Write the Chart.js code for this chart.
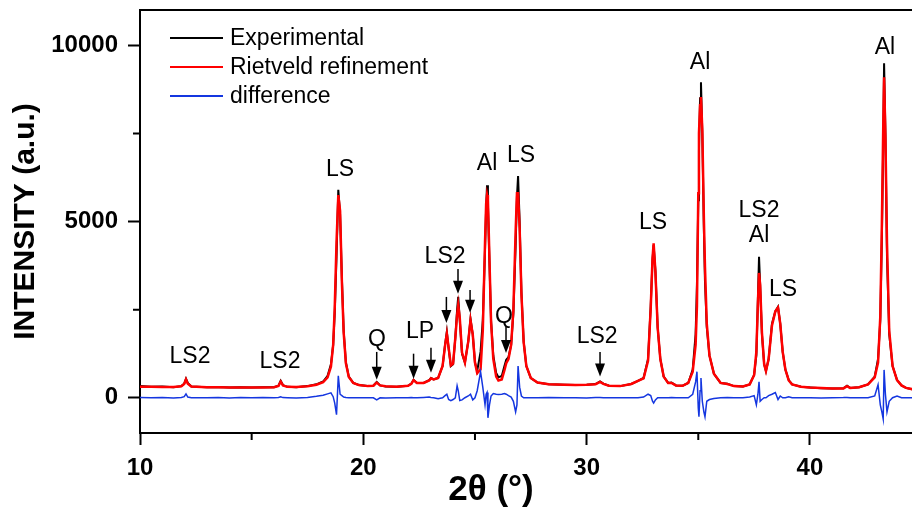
<!DOCTYPE html>
<html>
<head>
<meta charset="utf-8">
<script src="https://cdn.jsdelivr.net/npm/chart.js@4.4.0/dist/chart.umd.min.js"></script>
<style>
  html, body { margin: 0; padding: 0; background: #fff; }
</style>
</head>
<body>
<canvas id="xrd" width="912" height="512"></canvas>
<script>
// 2theta positions (deg) shared by the three traces
const twoTheta = [
  10.0, 10.5, 11.0, 11.5, 11.85, 11.98, 12.06, 12.14, 12.3, 13.0, 13.5, 14.0, 14.5, 15.0, 15.5,
  16.0, 16.2, 16.3, 16.4, 16.6, 17.0, 17.5, 17.9, 18.2, 18.4, 18.55, 18.65, 18.72, 18.8, 18.88,
  18.96, 19.04, 19.12, 19.22, 19.35, 19.55, 19.8, 20.2, 20.45, 20.6, 20.75, 21.0, 21.5, 22.0, 22.15,
  22.25, 22.4, 22.7, 22.95, 23.03, 23.15, 23.35, 23.55, 23.66, 23.74, 23.82, 23.92, 24.02, 24.12, 24.2,
  24.25, 24.32, 24.42, 24.55, 24.7, 24.8, 24.9, 25.0, 25.1, 25.25, 25.35, 25.45, 25.5, 25.54, 25.58,
  25.65, 25.72, 25.82, 25.95, 26.05, 26.2, 26.32, 26.4, 26.5, 26.62, 26.72, 26.82, 26.88, 26.93, 27.0,
  27.08, 27.18, 27.3, 27.5, 27.8, 28.3, 29.0, 29.5, 30.0, 30.4, 30.6, 30.75, 31.0, 31.5, 32.0,
  32.3, 32.55, 32.75, 32.87, 32.95, 33.0, 33.08, 33.18, 33.3, 33.45, 33.65, 33.8, 34.0, 34.3, 34.55,
  34.75, 34.88, 34.94, 35.0, 35.03, 35.08, 35.12, 35.18, 35.25, 35.3, 35.38, 35.5, 35.7, 36.0, 36.3,
  36.6, 37.0, 37.3, 37.5, 37.6, 37.67, 37.72, 37.77, 37.85, 37.95, 38.03, 38.15, 38.3, 38.45, 38.57,
  38.67, 38.78, 38.9, 39.05, 39.2, 39.6, 40.0, 40.5, 41.0, 41.5, 41.66, 41.8, 42.2, 42.6, 42.9,
  43.05, 43.15, 43.22, 43.28, 43.32, 43.38, 43.45, 43.55, 43.7, 43.9, 44.1, 44.3, 44.6
];

const experimental = [
  330, 315, 320, 300, 330, 400, 540, 420, 320, 300, 305, 290, 300, 288, 295,
  300, 340, 480, 360, 310, 300, 330, 380, 460, 620, 950, 1500, 2400, 4000, 5900,
  5200, 3400, 1900, 1000, 600, 420, 360, 330, 340, 450, 350, 320, 310, 340, 400,
  510, 420, 420, 500, 560, 520, 560, 900, 1500, 1870, 1400, 900, 950, 1700, 2500,
  2860, 2200, 1250, 1000, 1600, 2240, 1800, 1000, 760, 1300, 2200, 4200, 5400, 6030, 5500,
  3800, 2200, 1200, 700, 580, 620, 900, 1080, 1150, 1500, 2400, 4300, 5700, 6290, 5000,
  3000, 1600, 900, 560, 430, 380, 370, 365, 370, 390, 460, 400, 340, 330, 390,
  480, 560, 1100, 2600, 3900, 4330, 3600, 2000, 1100, 600, 420, 430, 350, 340, 420,
  800, 1800, 3200, 5600, 7000, 8500, 8950, 7500, 4800, 3300, 2000, 1200, 680, 420, 400,
  330, 320, 380, 650, 1200, 2800, 4000, 3200, 1800, 950, 760, 1100, 2100, 2450, 2580,
  2100, 1300, 800, 500, 380, 310, 290, 270, 260, 270, 340, 280, 300, 380, 600,
  1100, 2200, 4500, 7200, 9490, 7500, 4000, 1800, 900, 500, 350, 280, 240
];

const refinement = [
  315, 312, 308, 305, 325, 390, 520, 400, 318, 298, 295, 292, 290, 290, 291,
  298, 335, 460, 350, 310, 305, 325, 370, 440, 580, 880, 1500, 2550, 4400, 5750,
  5300, 3300, 1850, 980, 590, 420, 360, 330, 340, 430, 350, 325, 315, 340, 395,
  500, 420, 420, 490, 550, 520, 560, 900, 1480, 1820, 1420, 920, 970, 1700, 2350,
  2630, 2250, 1280, 1000, 1600, 2200, 1800, 1000, 700, 800, 1900, 4400, 5500, 5750, 5600,
  3900, 2150, 1100, 600, 490, 520, 780, 980, 1100, 1500, 2500, 4700, 5800, 5800, 4800,
  2950, 1580, 900, 560, 430, 380, 370, 365, 372, 385, 450, 395, 340, 330, 390,
  480, 550, 1050, 2550, 3950, 4380, 3580, 2000, 1100, 600, 420, 420, 350, 340, 420,
  740, 1500, 2600, 5800, 7500, 8300, 8530, 7600, 5100, 3700, 2100, 1200, 680, 420, 390,
  330, 320, 380, 640, 1300, 2700, 3540, 3200, 1850, 950, 760, 1100, 2050, 2450, 2560,
  2100, 1300, 800, 490, 380, 310, 290, 275, 260, 265, 330, 278, 300, 380, 580,
  1000, 2300, 4900, 7600, 9090, 7400, 4400, 1900, 900, 500, 350, 280, 240
];

const difference = [
  10, 0, 10, -10, 10, 30, 110, 20, 0, 0, 10, -5, 10, 0, 5,
  0, 10, 30, 5, 0, -5, 10, 40, 70, 110, 140, 30, -150, -480, 620,
  100, 60, 20, 10, 0, 0, 0, 0, 0, -60, 0, -5, 0, 0, 5,
  0, 0, 10, 20, 10, 0, -30, 0, 60, 100, -50, -80, -50, 0, 340,
  200, -80, -60, 0, 50, 100, -60, 0, 200, 740, 300, -200, 100, 150, -570,
  -200, 50, 120, 100, 90, 100, 120, 100, 60, 20, -100, -400, -200, 900, 300,
  50, 0, 0, 0, 0, 5, 0, 0, -5, 10, 10, 0, 0, 0, 0,
  0, 20, 100, 60, -100, -150, -60, 0, 0, 0, 0, 10, 0, 0, 0,
  100, 450, 740, -300, -540, 200, 560, -100, -400, -540, -100, -50, -20, 0, 10,
  0, 0, 20, 60, -200, 100, 450, -100, -50, 0, 0, 60, 100, 150, -50,
  50, 0, 0, 30, 0, 0, 0, -5, 0, 5, 10, 0, 0, 0, 50,
  370, -200, -400, -600, 790, 100, -400, -100, 0, 50, 0, 0, 0
];

const xTicks = [10, 20, 30, 40];
const xMinorTicks = [15, 25, 35];
const yTicks = [0, 5000, 10000];
const yMinorTicks = [2500, 7500];

// phase labels and marker arrows, in data units
const peakLabels = [
  { text: 'LS2', x: 12.24, y: 1160 },
  { text: 'LS2', x: 16.27, y: 1020 },
  { text: 'LS', x: 18.96, y: 6460 },
  { text: 'Q', x: 20.61, y: 1640 },
  { text: 'LP', x: 22.54, y: 1870 },
  { text: 'LS2', x: 23.66, y: 3990 },
  { text: 'Al', x: 25.54, y: 6630 },
  { text: 'LS', x: 27.06, y: 6880 },
  { text: 'Q', x: 26.30, y: 2290 },
  { text: 'LS2', x: 30.47, y: 1730 },
  { text: 'LS', x: 32.97, y: 4960 },
  { text: 'Al', x: 35.08, y: 9520 },
  { text: 'LS2', x: 37.72, y: 5300 },
  { text: 'Al', x: 37.72, y: 4590 },
  { text: 'LS', x: 38.80, y: 3060 },
  { text: 'Al', x: 43.36, y: 9920 }
];
const arrows = [
  { x: 20.6, from: 1300, to: 510 },
  { x: 22.25, from: 1250, to: 540 },
  { x: 23.03, from: 1420, to: 710 },
  { x: 23.72, from: 2860, to: 2120 },
  { x: 24.24, from: 3650, to: 2950 },
  { x: 24.78, from: 3060, to: 2410 },
  { x: 26.39, from: 2010, to: 1270 },
  { x: 30.6, from: 1300, to: 600 }
];

const FONT = '"Liberation Sans", Arial, sans-serif';

const pts = ys => twoTheta.map((t, i) => ({ x: t, y: ys[i] }));

const decorations = {
  id: 'decorations',
  afterDatasetsDraw(chart) {
    const { ctx, chartArea: a, scales: { x, y } } = chart;
    ctx.save();
    ctx.strokeStyle = '#000';
    ctx.fillStyle = '#000';
    ctx.lineWidth = 2;
    // top frame line
    ctx.beginPath();
    ctx.moveTo(a.left - 1, a.top);
    ctx.lineTo(a.right, a.top);
    ctx.stroke();
    // minor ticks
    ctx.beginPath();
    xMinorTicks.forEach(v => {
      const px = x.getPixelForValue(v);
      ctx.moveTo(px, a.bottom);
      ctx.lineTo(px, a.bottom + 7);
    });
    yMinorTicks.forEach(v => {
      const py = y.getPixelForValue(v);
      ctx.moveTo(a.left, py);
      ctx.lineTo(a.left - 7, py);
    });
    ctx.stroke();

    // peak labels
    ctx.font = '23px ' + FONT;
    ctx.textAlign = 'center';
    ctx.textBaseline = 'middle';
    peakLabels.forEach(p => ctx.fillText(p.text, x.getPixelForValue(p.x), y.getPixelForValue(p.y)));

    // arrows
    ctx.lineWidth = 1.5;
    arrows.forEach(ar => {
      const px = x.getPixelForValue(ar.x);
      const y0 = y.getPixelForValue(ar.from);
      const y1 = y.getPixelForValue(ar.to);
      ctx.beginPath();
      ctx.moveTo(px, y0);
      ctx.lineTo(px, y1 - 10);
      ctx.stroke();
      ctx.beginPath();
      ctx.moveTo(px - 5, y1 - 13);
      ctx.lineTo(px + 5, y1 - 13);
      ctx.lineTo(px, y1);
      ctx.closePath();
      ctx.fill();
    });

    // legend
    ctx.textAlign = 'left';
    ctx.font = '23px ' + FONT;
    chart.data.datasets.forEach((ds, i) => {
      const ly = 38 + i * 29;
      ctx.strokeStyle = ds.borderColor;
      ctx.lineWidth = 2;
      ctx.beginPath();
      ctx.moveTo(170, ly);
      ctx.lineTo(223, ly);
      ctx.stroke();
      ctx.fillStyle = '#000';
      ctx.fillText(ds.label, 230, ly + 1);
    });

    // x axis title
    ctx.font = 'bold 35px ' + FONT;
    ctx.textAlign = 'center';
    ctx.fillText('2\u03B8 (\u00B0)', 491, 490);
    ctx.restore();
  }
};

new Chart(document.getElementById('xrd'), {
  type: 'line',
  data: {
    datasets: [
      { label: 'Experimental', data: pts(experimental), borderColor: '#000000', borderWidth: 2, order: 3 },
      { label: 'Rietveld refinement', data: pts(refinement), borderColor: '#ff0000', borderWidth: 2.5, order: 2 },
      { label: 'difference', data: pts(difference), borderColor: '#1436e0', borderWidth: 1.5, order: 1 }
    ]
  },
  options: {
    responsive: false,
    devicePixelRatio: 1,
    animation: false,
    events: [],
    layout: { padding: { top: 10, right: 0, left: 0, bottom: 0 } },
    elements: { point: { radius: 0 }, line: { tension: 0 } },
    plugins: { legend: { display: false }, tooltip: { enabled: false } },
    scales: {
      x: {
        type: 'linear',
        min: 10,
        max: 44.57,
        afterBuildTicks: s => { s.ticks = xTicks.map(v => ({ value: v })); },
        afterFit: s => { s.height = 79; s.paddingLeft = 0; s.paddingRight = 0; },
        grid: { drawOnChartArea: false, drawTicks: true, tickLength: 12, tickWidth: 2, tickColor: '#000' },
        border: { display: true, color: '#000', width: 2 },
        ticks: {
          color: '#000',
          padding: 9,
          maxRotation: 0,
          font: { family: FONT, size: 24, weight: 'bold' },
          callback: v => String(v)
        }
      },
      y: {
        type: 'linear',
        min: -1000,
        max: 11000,
        afterBuildTicks: s => { s.ticks = yTicks.map(v => ({ value: v })); },
        afterFit: s => { s.width = 140; s.paddingTop = 0; s.paddingBottom = 0; },
        grid: { drawOnChartArea: false, drawTicks: true, tickLength: 12, tickWidth: 2, tickColor: '#000' },
        border: { display: true, color: '#000', width: 2 },
        ticks: {
          color: '#000',
          padding: 10,
          font: { family: FONT, size: 24, weight: 'bold' },
          callback: v => String(v)
        },
        title: {
          display: true,
          text: 'INTENSITY (a.u.)',
          color: '#000',
          padding: { top: 8, bottom: 0 },
          font: { family: FONT, size: 30, weight: 'bold' }
        }
      }
    }
  },
  plugins: [decorations]
});
</script>
</body>
</html>
